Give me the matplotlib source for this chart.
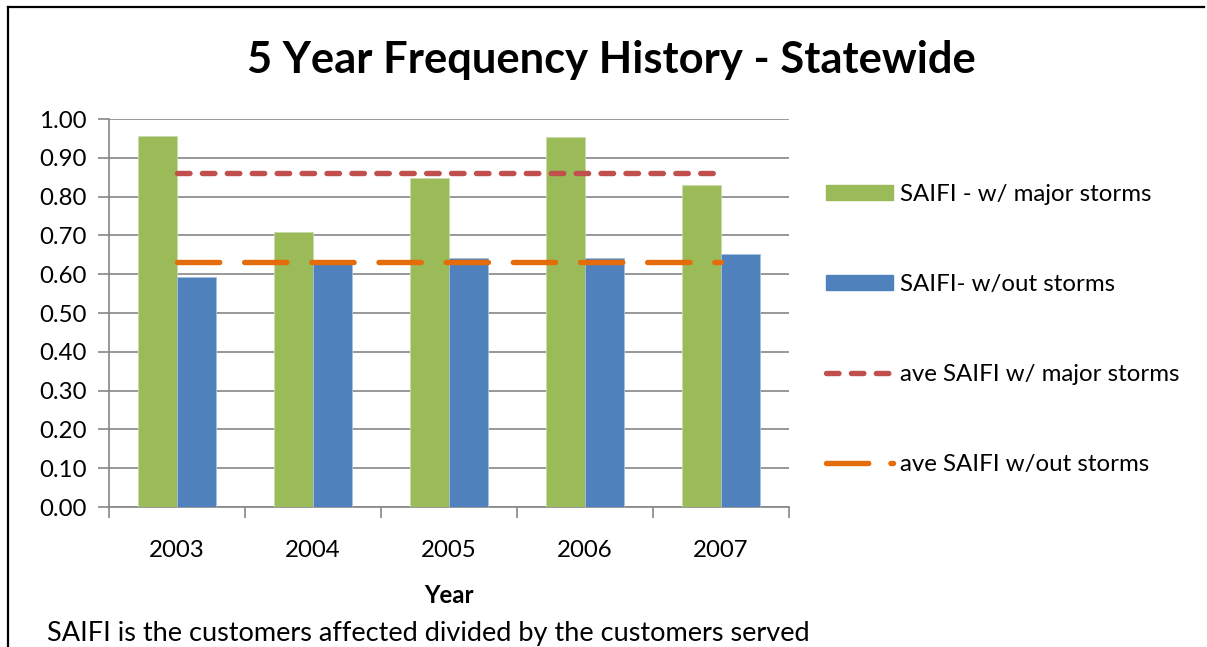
import matplotlib.pyplot as plt
import numpy as np
from matplotlib.lines import Line2D

plt.rcParams['font.family'] = ['Lato', 'DejaVu Sans']

years = ['2003', '2004', '2005', '2006', '2007']
saifi_major = [0.956, 0.709, 0.848, 0.954, 0.831]
saifi_no_storm = [0.593, 0.634, 0.642, 0.642, 0.652]
ave_major = [0.86, 0.86, 0.86, 0.86, 0.86]
ave_no_storm = [0.631, 0.631, 0.631, 0.631, 0.631]

green = '#9BBB59'
blue = '#4F81BD'
red = '#C0504D'
orange = '#E46C0A'
grid = '#868686'
fs = 17.3

fig = plt.figure(figsize=(12.07, 6.47), dpi=100)
ax = fig.add_axes([109 / 1207, 140 / 647, 680 / 1207, 388 / 647])

x = np.arange(len(years))
w = 0.287
ax.bar(x - w / 2, saifi_major, w, color=green, edgecolor='#C9DBA8', linewidth=0.6,
       label='SAIFI - w/ major storms', zorder=3)
ax.bar(x + w / 2, saifi_no_storm, w, color=blue, edgecolor='#A7C0DE', linewidth=0.6,
       label='SAIFI- w/out storms', zorder=3)

# averages drawn from the first to the last category centre
ax.plot(x[:-1].tolist() + [x[-1] - 0.05], ave_major, color=red, lw=3.9,
        dashes=(2.3, 2.3), dash_capstyle='round', zorder=4)
ax.plot(x, ave_no_storm, color=orange, lw=3.9, dashes=(7.8, 4.6),
        dash_capstyle='round', zorder=4)

ax.set_xlim(-0.5, 4.5)
ax.set_ylim(0, 1.0)
ticks = np.arange(0, 1.01, 0.1)
ax.set_yticks(ticks)
ax.set_yticklabels(['%.2f' % v for v in ticks], fontsize=fs)
ax.set_xticks(x)
ax.set_xticklabels(years, fontsize=fs)
ax.set_xticks(np.arange(-0.5, 4.6, 1), minor=True)
ax.tick_params(axis='x', which='major', length=0, pad=24)
ax.tick_params(axis='x', which='minor', length=8, color=grid, width=1.2, direction='out')
ax.tick_params(axis='y', length=8, color=grid, width=1.2, direction='out', pad=8)
ax.yaxis.grid(True, color=grid, lw=1.2, zorder=0)
ax.set_axisbelow(True)
for s in ['top', 'right']:
    ax.spines[s].set_visible(False)
for s in ['left', 'bottom']:
    ax.spines[s].set_color(grid)
    ax.spines[s].set_linewidth(1.2)

ax.set_xlabel('Year', fontsize=fs, fontweight='bold', labelpad=16)

fig.text(611 / 1207, 1 - 60 / 647, '5 Year Frequency History - Statewide',
         ha='center', va='center', fontsize=31.3, fontweight='bold')
fig.text(428 / 1207, 1 - 633 / 647,
         'SAIFI is the customers affected divided by the customers served',
         ha='center', va='center', fontsize=19.5)

handles = [plt.Rectangle((0, 0), 1, 1, color=green),
           plt.Rectangle((0, 0), 1, 1, color=blue),
           Line2D([], [], color=red, lw=3.9, dashes=(2.3, 2.3), dash_capstyle='round'),
           Line2D([], [], color=orange, lw=3.9, dashes=(7.8, 4.1), dash_capstyle='round')]
labels = ['SAIFI - w/ major storms', 'SAIFI- w/out storms',
          'ave SAIFI w/ major storms', 'ave SAIFI w/out storms']
fig.legend(handles, labels, loc='upper left', bbox_to_anchor=(814 / 1207, 1 - 172 / 647),
           frameon=False, fontsize=fs, handlelength=2.8, handleheight=0.55,
           handletextpad=0.3, labelspacing=2.87, borderpad=0)

# outer chart border (top and left visible)
fig.add_artist(Line2D([8 / 1207, 8 / 1207], [0, 1 - 7 / 647], color='black', lw=1.6,
                      transform=fig.transFigure))
fig.add_artist(Line2D([8 / 1207, 1204 / 1207], [1 - 7 / 647, 1 - 7 / 647], color='black',
                      lw=1.6, transform=fig.transFigure))

fig.savefig('out.png', dpi=100)
